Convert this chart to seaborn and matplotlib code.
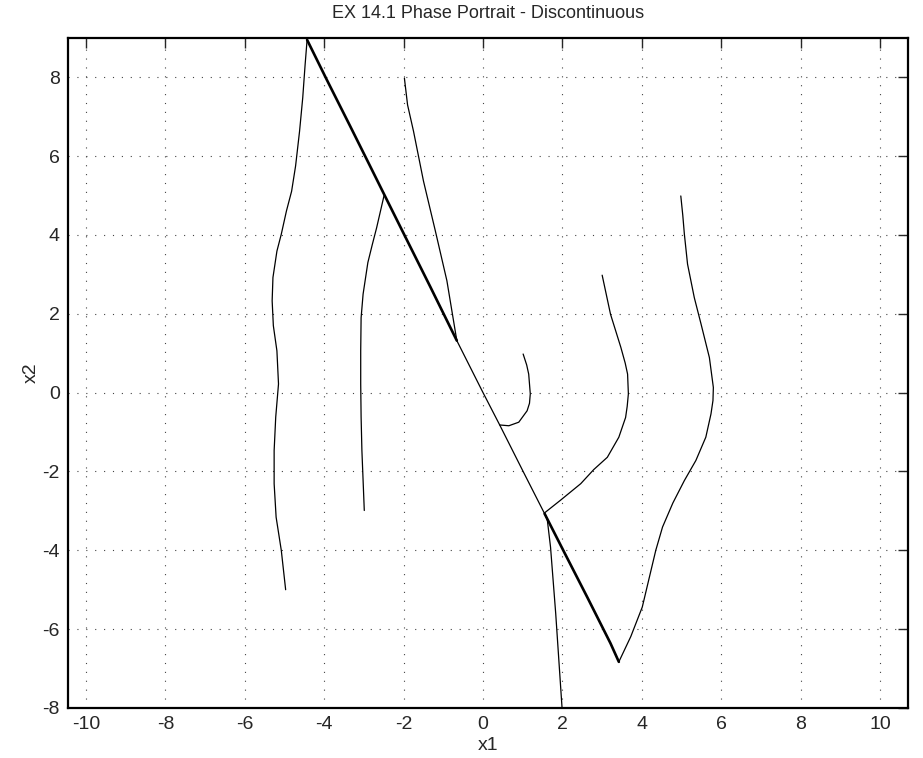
import numpy as np
import pandas as pd
import seaborn as sns
import matplotlib.pyplot as plt

# trajectories (x1, x2)
traj_a_x1 = [-4.97, -5.08, -5.21, -5.26, -5.26, -5.22, -5.15, -5.19, -5.28, -5.31, -5.29, -5.19, -5.08, -4.95, -4.82, -4.72, -4.62, -4.54, -4.48, -4.43]
traj_a_x2 = [-5.00, -4.00, -3.16, -2.31, -1.47, -0.62, 0.22, 1.06, 1.70, 2.33, 2.92, 3.59, 4.02, 4.61, 5.11, 5.75, 6.63, 7.48, 8.32, 8.95]

traj_b_x1 = [-2.99, -3.01, -3.05, -3.07, -3.08, -3.08, -3.07, -3.02, -2.90, -2.79, -2.68, -2.49]
traj_b_x2 = [-2.99, -2.48, -1.47, -0.62, 0.22, 1.06, 1.90, 2.50, 3.30, 3.75, 4.18, 5.01]

traj_c_x1 = [-1.98, -1.90, -1.75, -1.50, -1.20, -0.91, -0.66]
traj_c_x2 = [7.98, 7.30, 6.63, 5.37, 4.10, 2.84, 1.32]

traj_d_x1 = [1.01, 1.10, 1.15, 1.19, 1.17, 1.11, 0.90, 0.65, 0.42]
traj_d_x2 = [0.98, 0.70, 0.47, -0.03, -0.27, -0.46, -0.75, -0.84, -0.82]

traj_e_x1 = [3.00, 3.21, 3.47, 3.58, 3.64, 3.66, 3.63, 3.59, 3.42, 3.13, 2.79, 2.46, 1.95, 1.55]
traj_e_x2 = [2.98, 1.99, 1.15, 0.75, 0.47, -0.03, -0.35, -0.63, -1.13, -1.64, -1.95, -2.31, -2.73, -3.05]

traj_f_x1 = [4.98, 5.03, 5.07, 5.15, 5.32, 5.49, 5.70, 5.80, 5.79, 5.74, 5.61, 5.36, 5.07, 4.78, 4.52, 4.35, 4.01, 3.72, 3.42]
traj_f_x2 = [4.99, 4.50, 4.02, 3.26, 2.41, 1.74, 0.89, 0.13, -0.20, -0.54, -1.13, -1.72, -2.23, -2.80, -3.41, -4.00, -5.44, -6.19, -6.83]

traj_g_x1 = [1.99, 1.83, 1.70, 1.62, 1.57]
traj_g_x2 = [-8.00, -5.60, -3.92, -3.24, -3.10]

# sliding motion along the switching line (chattering parts drawn heavier)
slide_up_x1 = [-4.43, -3.94, -3.35, -2.85, -2.47, -1.98, -1.33, -0.66]
slide_up_x2 = [8.95, 7.95, 6.77, 5.76, 4.99, 4.00, 2.69, 1.32]
slide_mid_x1 = [-0.66, 0.00, 0.42, 1.00, 1.55]
slide_mid_x2 = [1.32, 0.00, -0.82, -1.98, -3.07]
slide_lo_x1 = [1.55, 2.04, 2.63, 3.21, 3.42]
slide_lo_x2 = [-3.07, -4.04, -5.20, -6.36, -6.83]

x_ticks = [-10, -8, -6, -4, -2, 0, 2, 4, 6, 8, 10]
y_ticks = [-8, -6, -4, -2, 0, 2, 4, 6, 8]

sns.set_style("white")
plt.rcParams['font.family'] = ['Liberation Sans', 'DejaVu Sans']
plt.rcParams['axes.unicode_minus'] = False

fig = plt.figure(figsize=(9.23, 7.58), dpi=100)
ax = fig.add_axes([0.0737, 0.066, 0.91, 0.884])

frames = []
for name, xs, ys in [("a", traj_a_x1, traj_a_x2), ("b", traj_b_x1, traj_b_x2),
                     ("c", traj_c_x1, traj_c_x2), ("d", traj_d_x1, traj_d_x2),
                     ("e", traj_e_x1, traj_e_x2), ("f", traj_f_x1, traj_f_x2),
                     ("g", traj_g_x1, traj_g_x2), ("mid", slide_mid_x1, slide_mid_x2)]:
    frames.append(pd.DataFrame({"x1": xs, "x2": ys, "traj": name}))
df = pd.concat(frames, ignore_index=True)

sns.lineplot(data=df, x="x1", y="x2", units="traj", estimator=None, sort=False,
             color="black", linewidth=0.9, ax=ax)

chat = pd.concat([pd.DataFrame({"x1": slide_up_x1, "x2": slide_up_x2, "traj": "up"}),
                  pd.DataFrame({"x1": slide_lo_x1, "x2": slide_lo_x2, "traj": "lo"})],
                 ignore_index=True)
sns.lineplot(data=chat, x="x1", y="x2", units="traj", estimator=None, sort=False,
             color="black", linewidth=1.9, ax=ax)

ax.set_xlim(-10.45, 10.7)
ax.set_ylim(-8, 9)
ax.set_xticks(x_ticks)
ax.set_yticks(y_ticks)
ax.grid(True, color="#444444", linestyle=(0, (1, 7)), linewidth=0.8)
ax.tick_params(direction="in", length=7, width=1, top=True, right=True,
               labelsize=14, pad=6)
for s in ax.spines.values():
    s.set_visible(True)
    s.set_color("black")
    s.set_linewidth(1.6)

ax.set_xlabel("x1", fontsize=14, labelpad=3)
ax.set_ylabel("x2", fontsize=14, labelpad=2)
ax.set_title("EX 14.1 Phase Portrait - Discontinuous", fontsize=13, pad=14)

fig.savefig("out.png", dpi=100)
